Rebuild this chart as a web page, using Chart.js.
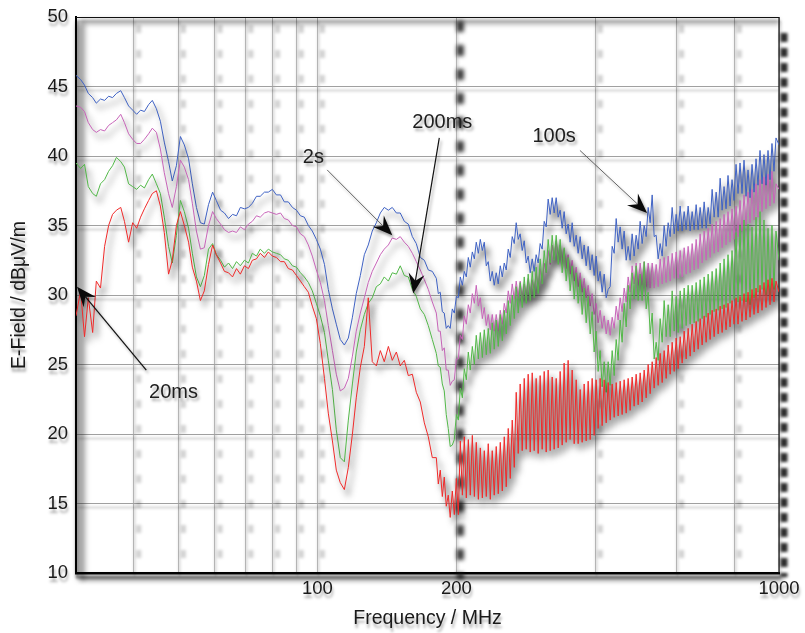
<!DOCTYPE html>
<html>
<head>
<meta charset="utf-8">
<script src="https://cdn.jsdelivr.net/npm/chart.js@4.4.1/dist/chart.umd.min.js"></script>
<style>
  html, body { margin: 0; padding: 0; background: #fff; }
</style>
</head>
<body>
<canvas id="fieldChart" width="805" height="633"></canvas>
<script>
// frequency grid (MHz); finer above ~180 MHz where traces are noisy
const freqMHz = [
  30.0, 30.7, 31.3, 31.9, 32.6, 33.2, 33.9, 34.6, 35.3, 36.0,
  36.7, 37.5, 38.2, 39.0, 39.8, 40.6, 41.4, 42.2, 43.1, 43.9,
  44.8, 45.7, 46.6, 47.6, 48.5, 49.5, 50.5, 51.5, 52.6, 53.6,
  54.7, 55.8, 56.9, 58.1, 59.3, 60.4, 61.7, 62.9, 64.2, 65.5,
  66.8, 68.1, 69.5, 70.9, 72.3, 73.8, 75.2, 76.8, 78.3, 79.9,
  81.5, 83.2, 84.8, 86.5, 88.3, 90.1, 91.9, 93.7, 95.6, 97.5,
  99.5, 101.5, 103.6, 105.6, 107.8, 109.9, 112.1, 114.4, 116.7, 119.1,
  121.4, 123.9, 126.4, 128.9, 131.5, 134.2, 136.9, 139.6, 142.5, 145.3,
  148.3, 151.2, 154.3, 157.4, 160.6, 163.8, 167.1, 170.5, 173.9, 177.4,
  181.0, 182.8, 184.6, 186.5, 188.3, 190.2, 192.1, 194.0, 196.0, 198.0,
  200.0, 202.0, 204.0, 206.1, 208.1, 210.2, 212.3, 214.4, 216.6, 218.8,
  220.9, 223.2, 225.4, 227.7, 229.9, 232.2, 234.5, 236.9, 239.2, 241.6,
  244.0, 246.5, 249.0, 251.5, 254.0, 256.5, 259.1, 261.7, 264.3, 267.0,
  269.6, 272.3, 275.0, 277.8, 280.6, 283.4, 286.2, 289.1, 292.0, 294.9,
  297.8, 300.8, 303.8, 306.9, 310.0, 313.1, 316.2, 319.4, 322.6, 325.8,
  329.1, 332.4, 335.7, 339.1, 342.4, 345.9, 349.3, 352.8, 356.4, 360.0,
  363.6, 367.2, 370.9, 374.6, 378.4, 382.2, 386.0, 389.9, 393.8, 397.7,
  401.7, 405.7, 409.8, 413.9, 418.1, 422.3, 426.5, 430.8, 435.1, 439.5,
  443.9, 448.3, 452.8, 457.3, 461.9, 466.6, 471.2, 475.9, 480.7, 485.5,
  490.4, 495.3, 500.3, 505.3, 510.4, 515.5, 520.7, 525.9, 531.2, 536.5,
  541.9, 547.3, 552.8, 558.4, 563.9, 569.6, 575.3, 581.1, 586.9, 592.8,
  598.7, 604.7, 610.8, 616.9, 623.1, 629.3, 635.6, 642.0, 648.4, 654.9,
  661.5, 668.1, 674.8, 681.6, 688.4, 695.3, 702.3, 709.3, 716.4, 723.6,
  730.9, 738.2, 745.6, 753.0, 760.3, 767.9, 775.5, 783.3, 791.2, 799.1,
  807.1, 815.2, 823.4, 831.6, 839.9, 848.3, 856.9, 865.5, 874.2, 882.9,
  891.7, 900.6, 909.7, 918.8, 927.9, 937.3, 946.7, 956.1, 965.6, 975.3,
  985.1, 1000
];

// E-field in dBuV/m for each dwell time
const field100s = [
  45.8, 45.5, 45.1, 44.5, 44.2, 43.8, 44.1, 44.0, 44.3, 44.2,
  44.5, 44.7, 44.2, 43.6, 43.3, 43.0, 43.3, 43.2, 43.7, 44.0,
  43.4, 42.5, 41.0, 39.6, 38.2, 39.3, 41.4, 40.8, 39.8, 38.0,
  36.3, 35.2, 35.1, 36.5, 37.4, 36.8, 36.1, 35.9, 35.5, 35.8,
  35.7, 36.3, 36.2, 36.3, 36.6, 37.1, 37.1, 37.4, 37.4, 37.6,
  37.2, 37.2, 36.7, 36.7, 36.3, 36.1, 35.7, 35.6, 35.0, 34.6,
  34.0, 33.3, 32.2, 30.4, 29.0, 27.9, 26.8, 26.4, 26.9, 28.4,
  30.1, 31.4, 32.9, 33.6, 34.6, 35.2, 35.9, 36.3, 36.1, 36.3,
  35.9, 35.9, 35.3, 35.1, 34.2, 33.7, 32.7, 32.5, 31.8, 31.7,
  31.2, 30.1, 30.2, 28.8, 28.7, 27.6, 27.8, 27.6, 29.0, 28.7,
  29.9, 29.8, 31.3, 30.7, 31.7, 31.3, 32.7, 32.0, 33.1, 32.6,
  33.8, 33.0, 34.0, 33.2, 33.8, 32.1, 32.4, 31.0, 31.7, 30.7,
  31.6, 30.8, 32.1, 31.3, 32.3, 31.8, 33.3, 32.7, 34.2, 33.7,
  35.2, 34.0, 34.4, 33.2, 33.9, 32.3, 32.8, 31.6, 32.6, 31.7,
  32.9, 32.3, 33.7, 33.3, 35.3, 34.9, 36.9, 35.8, 37.0, 35.9,
  37.0, 35.6, 36.1, 34.8, 36.0, 34.4, 35.1, 33.8, 35.2, 33.5,
  34.3, 33.0, 34.2, 32.6, 33.6, 32.1, 33.5, 31.8, 32.9, 31.4,
  32.8, 31.0, 31.7, 30.2, 31.5, 29.8, 30.4, 30.6, 33.5, 33.0,
  35.5, 33.8, 34.9, 33.3, 34.6, 32.5, 33.5, 32.5, 34.4, 32.8,
  34.3, 33.3, 35.3, 33.7, 35.0, 34.2, 36.3, 35.2, 37.2, 34.2,
  34.3, 32.6, 33.7, 32.8, 35.0, 33.5, 35.2, 34.2, 36.3, 34.4,
  35.8, 34.6, 36.4, 34.6, 36.0, 34.7, 36.4, 34.6, 36.0, 34.7,
  36.5, 34.7, 36.3, 34.8, 36.7, 34.8, 36.3, 35.1, 37.6, 35.6,
  37.4, 35.6, 38.4, 36.1, 37.8, 36.2, 38.6, 36.4, 38.3, 36.8,
  39.4, 37.3, 39.5, 37.3, 39.7, 37.1, 39.0, 37.0, 39.4, 37.4,
  39.8, 37.9, 40.4, 38.0, 40.1, 37.9, 40.4, 38.3, 40.9, 38.9,
  41.3, 40.8
];
const field2s = [
  43.6, 43.5, 43.2, 42.4, 41.9, 41.7, 41.9, 41.8, 42.2, 42.4,
  42.6, 43.0, 42.4, 41.6, 41.2, 40.9, 40.9, 41.2, 41.6, 42.0,
  41.7, 40.5, 38.8, 37.3, 36.3, 37.8, 39.7, 39.2, 38.3, 36.6,
  34.6, 33.3, 33.4, 35.0, 36.0, 35.5, 35.1, 34.7, 34.5, 34.6,
  34.5, 34.9, 34.7, 35.1, 35.3, 35.7, 35.6, 35.9, 36.0, 35.9,
  35.8, 35.9, 35.5, 35.4, 35.0, 34.9, 34.4, 34.2, 33.6, 32.8,
  31.8, 30.9, 29.6, 27.8, 26.0, 24.3, 23.1, 23.3, 24.0, 25.6,
  27.4, 28.7, 29.8, 30.9, 31.7, 32.3, 32.9, 33.3, 33.6, 34.1,
  34.0, 34.2, 33.8, 33.5, 33.0, 32.4, 31.8, 31.1, 30.4, 29.5,
  28.7, 27.4, 27.4, 26.0, 26.2, 24.6, 24.6, 23.5, 23.8, 23.9,
  25.4, 25.4, 27.1, 26.8, 28.5, 27.9, 29.3, 28.7, 30.1, 29.4,
  30.7, 29.2, 29.8, 28.3, 29.1, 27.8, 28.6, 27.5, 28.6, 27.4,
  28.6, 27.4, 28.9, 27.9, 29.4, 28.7, 30.3, 29.4, 30.8, 29.7,
  31.0, 29.8, 31.0, 29.7, 30.8, 29.8, 31.2, 29.9, 31.1, 30.2,
  31.6, 30.5, 31.9, 30.9, 32.3, 31.6, 33.2, 32.2, 33.6, 32.6,
  33.9, 32.6, 33.6, 32.2, 33.3, 31.9, 32.9, 31.5, 32.5, 31.0,
  32.0, 30.6, 31.6, 30.2, 31.2, 29.8, 30.7, 29.2, 30.1, 28.6,
  29.4, 28.0, 28.9, 27.6, 28.5, 27.2, 28.2, 27.1, 28.4, 27.6,
  29.2, 28.2, 29.8, 28.8, 30.5, 29.5, 31.3, 30.2, 32.1, 30.8,
  32.3, 30.7, 32.3, 30.7, 32.4, 30.6, 32.3, 30.5, 32.3, 30.5,
  32.2, 30.6, 32.6, 30.8, 32.7, 30.9, 32.8, 31.0, 33.0, 31.2,
  33.1, 31.2, 33.2, 31.3, 33.4, 31.5, 33.5, 31.6, 33.7, 31.8,
  34.0, 31.9, 34.4, 32.3, 34.6, 32.5, 34.8, 32.7, 35.1, 33.0,
  35.3, 33.1, 35.5, 33.4, 35.8, 33.6, 36.0, 33.8, 36.2, 34.0,
  36.4, 34.2, 36.8, 34.6, 37.2, 35.0, 37.4, 35.2, 37.6, 35.4,
  38.0, 35.6, 38.3, 36.0, 38.5, 36.2, 38.7, 36.4, 38.9, 36.6,
  38.0, 37.6
];
const field200ms = [
  39.5, 39.1, 39.4, 37.8, 37.3, 37.1, 38.0, 38.3, 38.9, 39.3,
  39.9, 39.6, 39.2, 38.0, 37.8, 37.6, 37.9, 37.7, 38.3, 38.7,
  38.0, 37.3, 35.6, 33.5, 32.3, 34.3, 36.8, 36.0, 34.8, 33.0,
  31.3, 30.6, 31.4, 33.3, 33.7, 32.9, 32.5, 32.0, 32.3, 31.9,
  32.4, 32.1, 32.5, 32.3, 33.0, 32.8, 33.3, 33.0, 33.3, 33.1,
  33.0, 32.9, 32.6, 32.5, 32.1, 32.0, 31.6, 31.3, 30.9, 30.3,
  29.4, 28.5, 27.3, 25.3, 23.2, 20.3, 18.3, 18.0, 21.0, 23.6,
  25.9, 27.5, 28.6, 29.4, 29.8, 30.6, 30.8, 31.3, 31.0, 31.6,
  31.5, 32.1, 31.4, 31.3, 30.4, 29.9, 29.0, 28.6, 27.8, 26.8,
  25.8, 24.9, 24.8, 23.6, 23.1, 21.4, 20.4, 19.1, 19.2, 19.6,
  21.4, 21.0, 23.3, 22.6, 24.7, 23.9, 25.9, 24.6, 26.3, 25.0,
  27.1, 25.4, 27.3, 25.5, 27.5, 25.7, 27.6, 25.8, 28.0, 26.1,
  28.2, 26.3, 28.6, 26.7, 28.9, 27.2, 29.6, 27.8, 30.0, 28.3,
  30.6, 28.7, 30.9, 29.1, 31.3, 29.4, 31.5, 29.6, 31.7, 29.8,
  32.0, 30.1, 32.6, 30.8, 33.2, 31.6, 34.0, 32.3, 34.3, 32.5,
  34.3, 32.2, 34.0, 31.6, 33.4, 31.0, 32.7, 30.3, 32.1, 29.7,
  31.6, 29.4, 31.1, 28.6, 30.5, 28.0, 29.9, 27.2, 28.8, 25.9,
  27.4, 24.5, 26.0, 23.4, 25.2, 23.0, 25.2, 23.5, 26.0, 24.2,
  26.8, 25.3, 28.2, 26.6, 29.4, 27.7, 30.7, 29.0, 31.6, 29.7,
  32.1, 29.6, 31.5, 29.6, 32.4, 29.0, 30.2, 27.2, 28.7, 25.4,
  26.6, 25.3, 28.3, 26.6, 29.6, 27.0, 29.3, 27.0, 30.3, 27.4,
  29.9, 27.3, 30.3, 27.6, 30.5, 27.8, 30.7, 27.9, 30.7, 28.0,
  30.9, 28.1, 31.1, 28.3, 31.3, 28.4, 31.5, 28.6, 31.7, 28.8,
  31.9, 28.9, 32.3, 29.0, 32.6, 29.1, 32.9, 29.4, 33.2, 29.7,
  34.5, 29.5, 35.0, 29.6, 35.4, 29.5, 35.1, 29.3, 34.9, 29.8,
  35.6, 30.2, 36.0, 30.4, 35.4, 30.0, 34.8, 29.9, 35.0, 30.4,
  34.6, 32.5
];
const field20ms = [
  28.5, 30.3, 27.0, 29.8, 27.3, 31.0, 30.5, 33.5, 35.0, 35.8,
  36.1, 36.3, 35.3, 33.8, 35.2, 34.8, 35.6, 36.2, 36.8, 37.3,
  37.5, 36.4, 34.5, 31.5, 32.5, 35.0, 36.0, 35.0, 33.8, 32.0,
  31.0, 29.6, 30.3, 32.2, 33.6, 32.9, 32.3, 31.7, 31.6, 31.3,
  31.9, 31.5, 32.1, 31.9, 32.5, 32.6, 33.0, 32.7, 33.1, 32.8,
  32.7, 32.4, 32.4, 31.9, 31.8, 31.4, 31.0, 30.6, 30.2, 29.2,
  28.3, 26.5, 24.0, 21.5, 19.5, 17.4, 16.5, 16.0, 17.6, 20.0,
  22.6, 24.8, 26.3, 29.8, 25.2, 24.9, 26.0, 25.2, 26.3, 25.3,
  25.9, 24.9, 25.3, 24.2, 24.3, 23.0, 22.3, 20.8, 19.8, 18.3,
  18.3, 16.4, 17.4, 15.5, 16.9, 14.8, 15.6, 14.0, 15.9, 14.2,
  16.8, 14.2, 19.5, 15.6, 19.8, 15.4, 19.6, 15.6, 19.9, 15.5,
  19.4, 15.3, 19.0, 15.4, 18.8, 15.5, 19.3, 15.3, 18.8, 15.6,
  19.1, 15.7, 19.4, 15.9, 19.8, 16.2, 20.4, 16.8, 21.0, 17.6,
  23.0, 18.6, 23.6, 18.8, 24.0, 18.9, 24.3, 18.7, 24.4, 18.8,
  24.0, 18.6, 24.2, 18.9, 24.5, 18.7, 24.6, 18.8, 24.1, 18.9,
  24.0, 19.0, 24.5, 19.2, 25.1, 19.4, 25.3, 19.6, 24.6, 19.3,
  23.9, 19.3, 23.2, 19.4, 23.6, 19.5, 23.8, 19.6, 24.0, 19.9,
  23.9, 20.4, 24.0, 20.6, 23.9, 20.8, 23.7, 21.0, 23.6, 21.2,
  23.7, 21.3, 23.8, 21.4, 23.9, 21.5, 24.0, 21.7, 24.1, 22.0,
  24.3, 22.1, 24.4, 22.3, 24.6, 22.6, 25.0, 22.9, 25.2, 23.3,
  25.5, 23.5, 25.8, 23.7, 26.0, 24.0, 26.4, 24.3, 26.6, 24.5,
  26.9, 24.7, 27.0, 25.1, 27.4, 25.4, 27.6, 25.6, 27.9, 25.9,
  28.1, 26.1, 28.3, 26.4, 28.5, 26.6, 28.7, 26.8, 28.9, 27.0,
  29.0, 27.2, 29.2, 27.3, 29.3, 27.5, 29.4, 27.7, 29.6, 27.9,
  29.8, 27.9, 29.9, 28.1, 30.1, 28.2, 30.2, 28.4, 30.4, 28.6,
  30.5, 28.7, 30.7, 28.9, 30.9, 29.1, 31.1, 29.3, 31.2, 29.5,
  31.0, 30.2
];

const xGridTicks = [30, 40, 50, 60, 70, 80, 90, 100, 200, 400, 600, 800, 1000];
const xLabelTicks = [100, 200, 1000];

// annotations: label, text centre, arrow tail, arrow tip (MHz, dBuV/m)
const noteLabels = ['20ms', '2s', '200ms', '100s'];
const noteTextAt = [[48.8, 23.0], [98.0, 39.9], [186.5, 42.4], [325.8, 41.4]];
const noteTail = [[42.6, 24.6], [105.0, 39.0], [183.7, 41.3], [370.5, 40.4]];
const noteTip = [[30.15, 30.6], [145.3, 34.3], [161.3, 30.1], [517.9, 35.9]];
const noteDark = [true, false, true, false];

const FONT = "'Liberation Sans', Arial, sans-serif";

function toPoints(vals) {
    return freqMHz.map((f, i) => ({ x: f, y: vals[i] }));
}

function blurLine(ctx, x1, y1, x2, y2, color, width, dash, blur) {
    ctx.save();
    ctx.filter = 'blur(' + blur + 'px)';
    ctx.strokeStyle = color;
    ctx.lineWidth = width;
    ctx.setLineDash(dash);
    ctx.beginPath();
    ctx.moveTo(x1, y1);
    ctx.lineTo(x2, y2);
    ctx.stroke();
    ctx.restore();
}

const decor = {
    id: 'decor',
    beforeDraw(chart) {
        // soft drop shadow for grid, axes and text
        const ctx = chart.ctx;
        ctx.save();
        ctx.shadowColor = 'rgba(0,0,0,0.35)';
        ctx.shadowBlur = 3;
        ctx.shadowOffsetX = 1;
        ctx.shadowOffsetY = 4;
    },
    beforeDatasetsDraw(chart) {
        const ctx = chart.ctx;
        const { left, right, top, bottom } = chart.chartArea;
        const xs = chart.scales.x;
        ctx.save();
        ctx.shadowColor = 'transparent';
        [40, 50, 60, 70, 80, 90, 100, 400, 600, 800].forEach(f => {
            const px = xs.getPixelForValue(f) + 5;
            blurLine(ctx, px, top + 8, px, bottom - 4, 'rgba(0,0,0,0.18)', 5, [8, 17], 1.5);
        });
        const p200 = xs.getPixelForValue(200) + 4;
        blurLine(ctx, p200, top + 4, p200, bottom + 6, 'rgba(20,20,20,0.85)', 7, [11, 13], 2);
        blurLine(ctx, right + 5, top + 16, right + 5, bottom + 4, 'rgba(20,20,20,0.9)', 7, [9, 6], 1.5);
        blurLine(ctx, left + 5, top + 6, left + 5, bottom + 6, 'rgba(0,0,0,0.5)', 6, [], 3);
        blurLine(ctx, left + 4, top + 5, right, top + 5, 'rgba(0,0,0,0.3)', 5, [], 2.5);
        blurLine(ctx, left + 4, bottom + 5, right + 4, bottom + 5, 'rgba(0,0,0,0.45)', 5, [], 2.5);
        ctx.strokeStyle = '#111';
        ctx.lineWidth = 1.2;
        ctx.beginPath();
        ctx.moveTo(left, top + 0.5);
        ctx.lineTo(right, top + 0.5);
        ctx.lineTo(right, bottom);
        ctx.stroke();
        ctx.restore();

        ctx.save();
        ctx.shadowColor = 'rgba(0,0,0,0.75)';
        ctx.shadowBlur = 6;
        ctx.shadowOffsetX = 4;
        ctx.shadowOffsetY = 6;
    },
    afterDatasetsDraw(chart) {
        chart.ctx.restore();
    },
    afterDraw(chart) {
        const ctx = chart.ctx;
        ctx.restore();
        const xs = chart.scales.x, ys = chart.scales.y;
        const px = p => [xs.getPixelForValue(p[0]), ys.getPixelForValue(p[1])];
        ctx.save();
        noteLabels.forEach((label, i) => {
            const [tx, ty] = px(noteTextAt[i]);
            const [ax, ay] = px(noteTail[i]);
            const [bx, by] = px(noteTip[i]);
            const ang = Math.atan2(by - ay, bx - ax);
            const len = 20, half = 8, notch = 13;
            const cos = Math.cos(ang), sin = Math.sin(ang);
            ctx.shadowColor = 'rgba(0,0,0,0.35)';
            ctx.shadowBlur = 3;
            ctx.shadowOffsetX = 2;
            ctx.shadowOffsetY = 3;
            ctx.strokeStyle = noteDark[i] ? '#111' : '#555';
            ctx.lineWidth = noteDark[i] ? 1.2 : 0.9;
            ctx.beginPath();
            ctx.moveTo(ax, ay);
            ctx.lineTo(bx - cos * notch, by - sin * notch);
            ctx.stroke();
            ctx.fillStyle = '#0a0a0a';
            ctx.beginPath();
            ctx.moveTo(bx, by);
            ctx.lineTo(bx - cos * len - sin * half, by - sin * len + cos * half);
            ctx.lineTo(bx - cos * notch, by - sin * notch);
            ctx.lineTo(bx - cos * len + sin * half, by - sin * len - cos * half);
            ctx.closePath();
            ctx.fill();
            ctx.font = '20px ' + FONT;
            ctx.fillStyle = '#1e1e1e';
            ctx.textAlign = 'center';
            ctx.textBaseline = 'middle';
            ctx.fillText(label, tx, ty);
        });
        ctx.restore();
    }
};

const ctx = document.getElementById('fieldChart').getContext('2d');
const chart = new Chart(ctx, {
    type: 'line',
    data: {
        datasets: [
            { label: '20ms', data: toPoints(field20ms), borderColor: '#f02a2a' },
            { label: '200ms', data: toPoints(field200ms), borderColor: '#52b848' },
            { label: '2s', data: toPoints(field2s), borderColor: '#c864b9' },
            { label: '100s', data: toPoints(field100s), borderColor: '#3f62c4' }
        ].map(d => Object.assign(d, {
            borderWidth: 1, pointRadius: 0, tension: 0, fill: false, borderJoinStyle: 'round'
        }))
    },
    options: {
        responsive: false,
        animation: false,
        layout: { padding: { top: 17, right: 26, left: 0, bottom: 0 } },
        plugins: { legend: { display: false }, tooltip: { enabled: false } },
        scales: {
            x: {
                type: 'logarithmic',
                min: 30,
                max: 1000,
                afterBuildTicks(s) { s.ticks = xGridTicks.map(v => ({ value: v })); },
                afterFit(s) { s.height = 60; s.paddingLeft = 0; s.paddingRight = 0; },
                ticks: {
                    autoSkip: false, maxRotation: 0, padding: 5, color: '#1a1a1a',
                    font: { family: FONT, size: 18.5 },
                    callback(v) { return xLabelTicks.includes(v) ? String(v) : ''; }
                },
                grid: { color: '#b4b4b4', lineWidth: 1, drawTicks: false },
                border: { color: '#000', width: 2.5 },
                title: {
                    display: true, text: 'Frequency / MHz', color: '#1a1a1a',
                    font: { family: FONT, size: 19.5, lineHeight: 1.2 },
                    padding: { top: 0, bottom: 3 }
                }
            },
            y: {
                min: 10,
                max: 50,
                afterFit(s) { s.width = 76; s.paddingTop = 0; s.paddingBottom = 0; },
                ticks: {
                    stepSize: 5, padding: 8, color: '#1a1a1a',
                    font: { family: FONT, size: 18.5 }
                },
                grid: { color: '#a0a0a0', lineWidth: 1, drawTicks: false },
                border: { color: '#000', width: 2 },
                title: {
                    display: true, text: 'E-Field / dBμV/m', color: '#1a1a1a',
                    font: { family: FONT, size: 19.5, lineHeight: 1.2 },
                    padding: { top: 8, bottom: 0 }
                }
            }
        }
    },
    plugins: [decor]
});
</script>
</body>
</html>
